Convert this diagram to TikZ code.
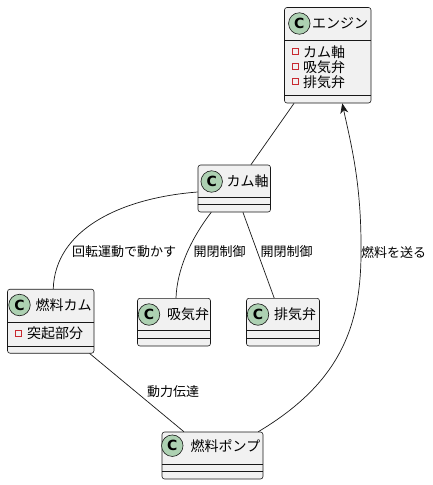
\documentclass[tikz,border=0pt]{standalone}
\usepackage{fontspec}
\usetikzlibrary{arrows.meta}
\newfontfamily\jp{Noto Sans CJK JP}
\newfontfamily\cfont{DejaVu Sans}
\definecolor{lineC}{HTML}{181818}
\definecolor{boxF}{HTML}{F1F1F1}
\definecolor{circF}{HTML}{ADD1B2}
\definecolor{privC}{HTML}{C82930}
\tikzset{
  cls/.style={draw=lineC, fill=boxF, rounded corners=2.5pt, line width=0.6pt, inner sep=0pt},
  sepline/.style={draw=lineC, line width=0.6pt},
  cc/.style={circle, draw=lineC, fill=circF, line width=0.6pt, minimum size=21.5pt, inner sep=0pt,
     font=\cfont\bfseries\fontsize{14}{14}\selectfont},
  ctitle/.style={anchor=west, inner sep=0pt, font=\jp\fontsize{14}{14}\selectfont, text=black},
  attr/.style={anchor=west, inner sep=0pt, font=\jp\fontsize{14}{14}\selectfont, text=black},
  priv/.style={draw=privC, line width=0.7pt, minimum size=6pt, inner sep=0pt},
  edge/.style={draw=lineC, line width=0.7pt},
  elabel/.style={anchor=west, inner sep=0pt, font=\jp\fontsize{13}{13}\selectfont, text=black}
}
\begin{document}
\begin{tikzpicture}[x=1pt,y=-1pt]
\useasboundingbox (0,0) rectangle (433,485);

% Engine
\node[cls, minimum width=86.5pt, minimum height=95.5pt] (eng) at (327.75,55.25) {};
\draw[sepline] (eng.west |- 0,40) -- (eng.east |- 0,40);
\draw[sepline] (eng.west |- 0,95.7) -- (eng.east |- 0,95.7);
\node[cc] (engC) at (299.3,23.5) {C};
\node[ctitle] (engT) at (312,23.5) {エンジン};
\node[priv] (engP1) at (295,51.7) {};
\node[attr] (engA1) at (303,51.7) {カム軸};
\node[priv] (engP2) at (295,66.7) {};
\node[attr] (engA2) at (303,66.7) {吸気弁};
\node[priv] (engP3) at (295,81.7) {};
\node[attr] (engA3) at (303,81.7) {排気弁};

% Cam shaft
\node[cls, minimum width=72.5pt, minimum height=47pt] (cam) at (234.25,188.5) {};
\draw[sepline] (cam.west |- 0,197.3) -- (cam.east |- 0,197.3);
\draw[sepline] (cam.west |- 0,204.5) -- (cam.east |- 0,204.5);
\node[cc] (camC) at (211.7,181.5) {C};
\node[ctitle] (camT) at (226.5,181.5) {カム軸};

% Fuel cam
\node[cls, minimum width=86.5pt, minimum height=64pt] (fcam) at (50.75,321.2) {};
\draw[sepline] (fcam.west |- 0,321.8) -- (fcam.east |- 0,321.8);
\draw[sepline] (fcam.west |- 0,346.7) -- (fcam.east |- 0,346.7);
\node[cc] (fcamC) at (19.5,305) {C};
\node[ctitle] (fcamT) at (35.5,305) {燃料カム};
\node[priv] (fcamP1) at (18.5,333.5) {};
\node[attr] (fcamA1) at (27,333.5) {突起部分};

% Intake valve
\node[cls, minimum width=73pt, minimum height=47.7pt] (kyu) at (174,322.15) {};
\draw[sepline] (kyu.west |- 0,330.7) -- (kyu.east |- 0,330.7);
\draw[sepline] (kyu.west |- 0,338.3) -- (kyu.east |- 0,338.3);
\node[cc] (kyuC) at (149,314.5) {C};
\node[ctitle] (kyuT) at (167,314.5) {吸気弁};

% Exhaust valve
\node[cls, minimum width=73pt, minimum height=47.7pt] (hai) at (283,322.15) {};
\draw[sepline] (hai.west |- 0,330.7) -- (hai.east |- 0,330.7);
\draw[sepline] (hai.west |- 0,338.3) -- (hai.east |- 0,338.3);
\node[cc] (haiC) at (258,314.5) {C};
\node[ctitle] (haiT) at (274,314.5) {排気弁};

% Fuel pump
\node[cls, minimum width=101pt, minimum height=47pt] (pump) at (212.5,455.5) {};
\draw[sepline] (pump.west |- 0,464) -- (pump.east |- 0,464);
\draw[sepline] (pump.west |- 0,471.5) -- (pump.east |- 0,471.5);
\node[cc] (pumpC) at (172.3,445.7) {C};
\node[ctitle] (pumpT) at (190.5,445.7) {燃料ポンプ};

% Edges
\draw[edge] (eng) -- (cam);
\draw[edge] ([yshift=-3.5pt]cam.west) .. controls (120,198) and (55,230) .. ([xshift=2.5pt]fcam.north);
\node[elabel] (l1) at (72,252) {回転運動で動かす};
\draw[edge] ([xshift=-23pt]cam.south) .. controls (190,240) and (177,270) .. ([xshift=2pt]kyu.north);
\node[elabel] (l2) at (193.5,252) {開閉制御};
\draw[edge] (cam) -- (hai);
\node[elabel] (l3) at (260.5,252) {開閉制御};
\draw[edge] (fcam) -- (pump);
\node[elabel] (l4) at (147,392) {動力伝達};
\draw[edge, -{Stealth[length=10pt,width=8pt,inset=3pt]}] ([xshift=-5pt]pump.north east)
   .. controls (345,380) and (362,320) .. (361,245)
   .. controls (361,180) and (350,140) .. ([xshift=14.5pt]eng.south);
\node[elabel] (l5) at (361,253) {燃料を送る};
\end{tikzpicture}
\end{document}
